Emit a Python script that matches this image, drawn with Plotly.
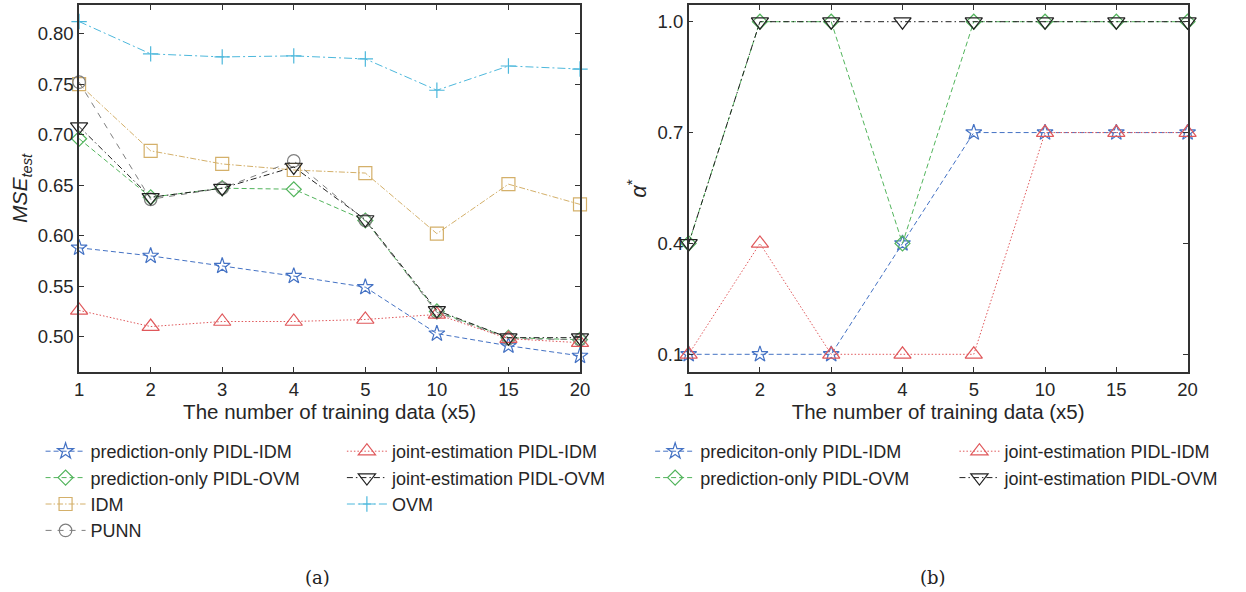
import plotly.graph_objects as go

W, H = 1246, 592
categories = ["1", "2", "3", "4", "5", "10", "15", "20"]

# (a) MSE_test
mse_pred_idm = [0.588, 0.580, 0.570, 0.560, 0.549, 0.503, 0.491, 0.481]
mse_pred_ovm = [0.696, 0.638, 0.647, 0.646, 0.615, 0.525, 0.499, 0.497]
mse_idm = [0.750, 0.684, 0.671, 0.665, 0.662, 0.602, 0.651, 0.631]
mse_punn = [0.752, 0.636, 0.647, 0.674, 0.615, 0.524, 0.498, 0.497]
mse_joint_idm = [0.526, 0.510, 0.515, 0.515, 0.517, 0.522, 0.498, 0.494]
mse_joint_ovm = [0.708, 0.638, 0.647, 0.668, 0.616, 0.526, 0.499, 0.499]
mse_ovm = [0.812, 0.780, 0.777, 0.778, 0.775, 0.744, 0.768, 0.765]

# (b) alpha*
a_pred_idm = [0.1, 0.1, 0.1, 0.4, 0.7, 0.7, 0.7, 0.7]
a_pred_ovm = [0.4, 1.0, 1.0, 0.4, 1.0, 1.0, 1.0, 1.0]
a_joint_idm = [0.1, 0.4, 0.1, 0.1, 0.1, 0.7, 0.7, 0.7]
a_joint_ovm = [0.4, 1.0, 1.0, 1.0, 1.0, 1.0, 1.0, 1.0]

mse_ticks = [0.50, 0.55, 0.60, 0.65, 0.70, 0.75, 0.80]
alpha_ticks = [0.1, 0.4, 0.7, 1.0]

BLUE = "#4472C4"
GREEN = "#52B45C"
TAN = "#D4B06A"
CYAN = "#4DB8DC"
RED = "#E0585B"
BLACK = "#222222"
GREY = "#7F7F7F"

FONT = "Liberation Sans, Arial, sans-serif"
SERIF = "DejaVu Serif, Liberation Serif, serif"
TXT = "#262626"

styles = {
    "pidm": dict(color=BLUE, dash="5px,3px", symbol="star-open", size=12),
    "povm": dict(color=GREEN, dash="5px,3px", symbol="diamond-open", size=11.5),
    "idm": dict(color=TAN, dash="6px,2px,1.5px,2px", symbol="square-open", size=13),
    "punn": dict(color=GREY, dash="6px,6px", symbol="circle-open", size=12.5),
    "jidm": dict(color=RED, dash="1.5px,2px", symbol="triangle-up-open", size=15),
    "jovm": dict(color=BLACK, dash="6px,3px,1.5px,3px", symbol="triangle-down-open", size=15),
    "ovm": dict(color=CYAN, dash="8px,3px,2px,3px", symbol="cross-thin-open", size=11),
}


def tr(x, y, name, key, xa, ya, legend):
    s = styles[key]
    return go.Scatter(
        x=x, y=y, name=name, mode="lines+markers",
        line=dict(color=s["color"], width=1, dash=s["dash"]),
        marker=dict(symbol=s["symbol"], size=s["size"], color=s["color"],
                    line=dict(color=s["color"], width=1.2)),
        xaxis=xa, yaxis=ya, legend=legend, cliponaxis=False,
    )


fig = go.Figure()
fig.add_trace(tr(categories, mse_pred_idm, "prediction-only PIDL-IDM", "pidm", "x", "y", "legend"))
fig.add_trace(tr(categories, mse_pred_ovm, "prediction-only PIDL-OVM", "povm", "x", "y", "legend"))
fig.add_trace(tr(categories, mse_idm, "IDM", "idm", "x", "y", "legend"))
fig.add_trace(tr(categories, mse_punn, "PUNN", "punn", "x", "y", "legend"))
fig.add_trace(tr(categories, mse_joint_idm, "joint-estimation PIDL-IDM", "jidm", "x", "y", "legend2"))
fig.add_trace(tr(categories, mse_joint_ovm, "joint-estimation PIDL-OVM", "jovm", "x", "y", "legend2"))
fig.add_trace(tr(categories, mse_ovm, "OVM", "ovm", "x", "y", "legend2"))
fig.add_trace(tr(categories, a_pred_idm, "prediciton-only PIDL-IDM", "pidm", "x2", "y2", "legend3"))
fig.add_trace(tr(categories, a_pred_ovm, "prediction-only PIDL-OVM", "povm", "x2", "y2", "legend3"))
fig.add_trace(tr(categories, a_joint_idm, "joint-estimation PIDL-IDM", "jidm", "x2", "y2", "legend4"))
fig.add_trace(tr(categories, a_joint_ovm, "joint-estimation PIDL-OVM", "jovm", "x2", "y2", "legend4"))

axis_common = dict(
    showline=True, linecolor="#333333", linewidth=1.5, mirror="ticks",
    ticks="inside", ticklen=5, tickwidth=1.2, tickcolor="#333333",
    showgrid=False, zeroline=False,
    tickfont=dict(family=FONT, size=18.5, color=TXT),
)
xtitle_font = dict(family=FONT, size=20.5, color=TXT)

ydom = [1 - 372 / H, 1 - 5 / H]
fig.update_layout(
    width=W, height=H,
    margin=dict(l=0, r=0, t=0, b=0),
    paper_bgcolor="white", plot_bgcolor="white",
    font=dict(family=FONT, color=TXT),
    showlegend=True,
    xaxis=dict(domain=[75 / W, 582 / W], type="category", range=[0, 7],
               categoryorder="array", categoryarray=categories,
               title=dict(text="The number of training data (x5)", standoff=0,
                          font=xtitle_font),
               anchor="y", **axis_common),
    yaxis=dict(domain=ydom, range=[0.465, 0.8284], tickvals=mse_ticks,
               ticktext=[f"{v:.2f}" for v in mse_ticks],
               title=dict(text="<i>MSE</i><sub><i>test</i></sub>", standoff=4,
                          font=dict(family=FONT, size=21, color=TXT)),
               anchor="x", **axis_common),
    xaxis2=dict(domain=[692 / W, 1197 / W], type="category", range=[0, 7],
                categoryorder="array", categoryarray=categories,
                title=dict(text="The number of training data (x5)", standoff=0,
                           font=xtitle_font),
                anchor="y2", **axis_common),
    yaxis2=dict(domain=ydom, range=[0.0521, 1.0452], tickvals=alpha_ticks,
                ticktext=[f"{v:.1f}" for v in alpha_ticks],
                title=dict(text="<i>α</i><sup>*</sup>", standoff=5,
                           font=dict(family=FONT, size=22, color=TXT)),
                anchor="x2", **axis_common),
)

leg_common = dict(
    orientation="v", xanchor="left", yanchor="top",
    bgcolor="rgba(0,0,0,0)", borderwidth=0,
    font=dict(family=FONT, size=18, color=TXT),
    tracegroupgap=0, itemwidth=40,
)
ly = 1 - 433 / H
fig.update_layout(
    legend=dict(x=36 / W, y=ly, **leg_common),
    legend2=dict(x=341 / W, y=ly, **leg_common),
    legend3=dict(x=653 / W, y=ly, **leg_common),
    legend4=dict(x=961 / W, y=ly, **leg_common),
)

fig.add_annotation(text="(a)", x=316 / W, y=1 - 577 / H, xref="paper", yref="paper",
                   xanchor="center", yanchor="middle",
                   showarrow=False, font=dict(family=SERIF, size=18, color="#222222"))
fig.add_annotation(text="(b)", x=939 / W, y=1 - 577 / H, xref="paper", yref="paper",
                   xanchor="center", yanchor="middle",
                   showarrow=False, font=dict(family=SERIF, size=18, color="#222222"))

fig.write_html("out.html")
